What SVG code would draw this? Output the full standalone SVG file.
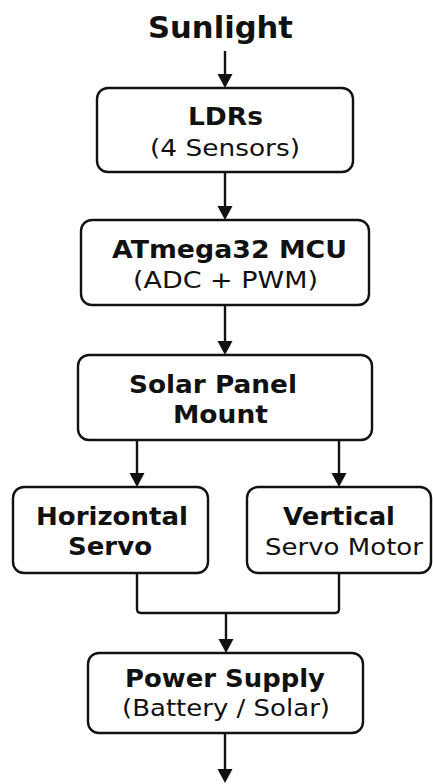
<svg xmlns="http://www.w3.org/2000/svg" width="433" height="784" viewBox="0 0 433 784">
<defs>
<marker id="ah" markerUnits="userSpaceOnUse" markerWidth="16" markerHeight="16" refX="10" refY="7.5" orient="auto">
<path d="M0,0 L14,7.5 L0,15 z" fill="#111"/>
</marker>
<style>
.box{fill:#fff;stroke:#111;stroke-width:2.4}
.b{font-family:"DejaVu Sans","Liberation Sans",sans-serif;font-weight:bold;font-size:25px;fill:#111}
.r{font-family:"DejaVu Sans","Liberation Sans",sans-serif;font-size:23px;fill:#111}
.c{fill:none;stroke:#111;stroke-width:2.4}
</style>
</defs>
<rect width="433" height="784" fill="#fff"/>
<g id="connectors">
<line class="c" x1="225" y1="51" x2="225" y2="84" marker-end="url(#ah)"/>
<line class="c" x1="225" y1="172" x2="225" y2="216" marker-end="url(#ah)"/>
<line class="c" x1="225" y1="305" x2="225" y2="351" marker-end="url(#ah)"/>
<line class="c" x1="137" y1="440" x2="137" y2="483" marker-end="url(#ah)"/>
<line class="c" x1="339" y1="440" x2="339" y2="483" marker-end="url(#ah)"/>
<path class="c" d="M137 573 V609 Q137 613 141 613 H335 Q339 613 339 609 V573"/>
<line class="c" x1="226" y1="613" x2="226" y2="649" marker-end="url(#ah)"/>
<line class="c" x1="225" y1="733" x2="225" y2="779" marker-end="url(#ah)"/>
</g>
<g id="sunlight">
<text class="b" x="148" y="38" textLength="145" lengthAdjust="spacingAndGlyphs" style="font-size:31px">Sunlight</text>
</g>
<g id="ldrs">
<rect class="box" x="97" y="88" width="256" height="84" rx="11"/>
<text class="b" x="188" y="125" textLength="75" lengthAdjust="spacingAndGlyphs">LDRs</text>
<text class="r" x="150" y="156" textLength="150" lengthAdjust="spacingAndGlyphs">(4 Sensors)</text>
</g>
<g id="mcu">
<rect class="box" x="81" y="220" width="288" height="85" rx="11"/>
<text class="b" x="112" y="258" textLength="235" lengthAdjust="spacingAndGlyphs">ATmega32 MCU</text>
<text class="r" x="133" y="288" textLength="185" lengthAdjust="spacingAndGlyphs">(ADC + PWM)</text>
</g>
<g id="mount">
<rect class="box" x="78" y="355" width="294" height="85" rx="11"/>
<text class="b" x="129" y="393" textLength="168" lengthAdjust="spacingAndGlyphs">Solar Panel</text>
<text class="b" x="173" y="423" textLength="95" lengthAdjust="spacingAndGlyphs">Mount</text>
</g>
<g id="hservo">
<rect class="box" x="13" y="487" width="195" height="86" rx="11"/>
<text class="b" x="36" y="525" textLength="152" lengthAdjust="spacingAndGlyphs">Horizontal</text>
<text class="b" x="68" y="555" textLength="84" lengthAdjust="spacingAndGlyphs">Servo</text>
</g>
<g id="vservo">
<rect class="box" x="247" y="487" width="184" height="86" rx="11"/>
<text class="b" x="283" y="525" textLength="112" lengthAdjust="spacingAndGlyphs">Vertical</text>
<text class="r" x="265" y="555" textLength="158" lengthAdjust="spacingAndGlyphs">Servo Motor</text>
</g>
<g id="power">
<rect class="box" x="88" y="653" width="275" height="80" rx="11"/>
<text class="b" x="125" y="687" textLength="200" lengthAdjust="spacingAndGlyphs">Power Supply</text>
<text class="r" x="122" y="716" textLength="208" lengthAdjust="spacingAndGlyphs">(Battery / Solar)</text>
</g>
</svg>
